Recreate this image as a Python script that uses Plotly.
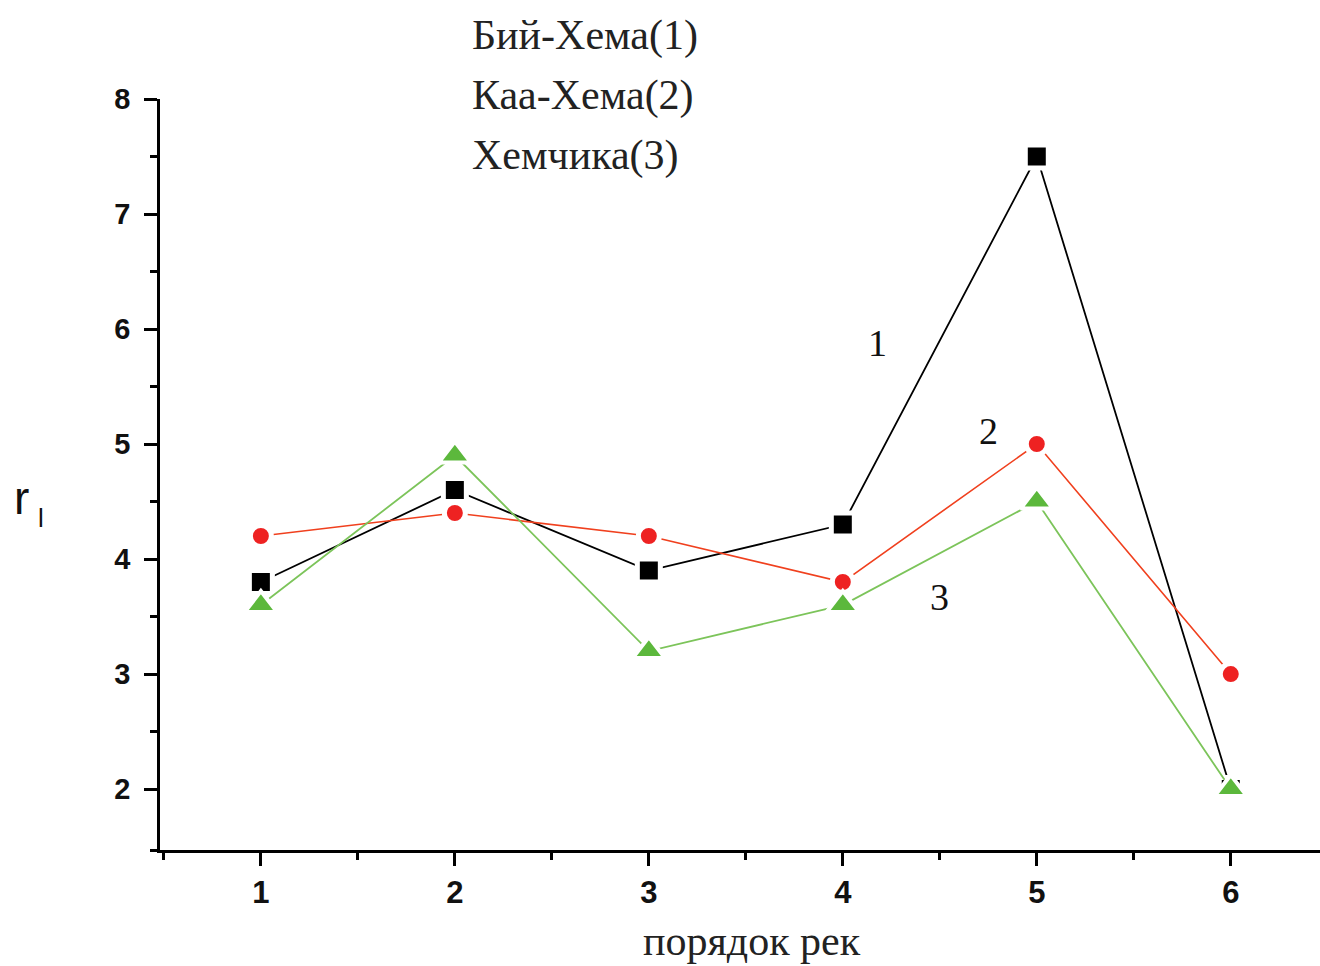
import plotly.graph_objects as go

orders = [1, 2, 3, 4, 5, 6]
bii_khem = [3.8, 4.6, 3.9, 4.3, 7.5, 2.0]
kaa_khem = [4.2, 4.4, 4.2, 3.8, 5.0, 3.0]
khemchik = [3.6, 4.9, 3.2, 3.6, 4.5, 2.0]
series_names = ["Бий-Хема(1)", "Каа-Хема(2)", "Хемчика(3)"]
curve_labels = ["1", "2", "3"]
label_x = [4.18, 4.75, 4.5]
label_y = [5.88, 5.11, 3.67]

fig = go.Figure()
fig.add_trace(go.Scatter(x=orders, y=bii_khem, mode="lines+markers", name=series_names[0],
                         line=dict(color="black", width=1.8),
                         marker=dict(symbol="square", size=23, color="black",
                                     line=dict(color="white", width=5))))
fig.add_trace(go.Scatter(x=orders, y=kaa_khem, mode="lines+markers", name=series_names[1],
                         line=dict(color="#f0401e", width=1.6),
                         marker=dict(symbol="circle", size=21, color="#ee2222",
                                     line=dict(color="white", width=5))))
fig.add_trace(go.Scatter(x=orders, y=khemchik, mode="lines+markers", name=series_names[2],
                         line=dict(color="#7cc45a", width=1.8),
                         marker=dict(symbol="triangle-up", size=28, color="#5cb83c",
                                     line=dict(color="white", width=4))))

serif = "Liberation Serif"
W, H = 1320, 966
ml, mr, mt, mb = 160, 0, 99, 116
pw, ph = W - ml - mr, H - mt - mb

def px2paper(x, y):
    return (x - ml) / pw, 1 - (y - mt) / ph

anns = []
for i, t in enumerate(series_names):
    px, py = px2paper(470, 35 + 60 * i)
    anns.append(dict(text=t, x=px, y=py, xref="paper", yref="paper",
                     showarrow=False, xanchor="left", yanchor="middle",
                     font=dict(family=serif, size=42, color="#222")))

for lab, xv, yv in zip(curve_labels, label_x, label_y):
    anns.append(dict(text=lab, x=xv, y=yv, xref="x", yref="y", showarrow=False,
                     xanchor="center", yanchor="middle",
                     font=dict(family=serif, size=38, color="#111")))

xt, yt = px2paper(752, 941)
anns.append(dict(text="порядок рек", x=xt, y=yt, xref="paper", yref="paper",
                 showarrow=False, xanchor="center", yanchor="middle",
                 font=dict(family=serif, size=42, color="#222")))
xr, yr = px2paper(21, 498)
anns.append(dict(text="r", x=xr, y=yr, xref="paper", yref="paper",
                 showarrow=False, xanchor="center", yanchor="middle",
                 font=dict(family="Liberation Sans", size=46, color="#111")))
xs, ys = px2paper(41, 518)
anns.append(dict(text="l", x=xs, y=ys, xref="paper", yref="paper",
                 showarrow=False, xanchor="center", yanchor="middle",
                 font=dict(family="Liberation Sans", size=26, color="#111")))

axis_common = dict(showline=True, linecolor="black", linewidth=2.5, showgrid=False,
                   zeroline=False, ticks="outside", tickwidth=2.5, tickcolor="black",
                   ticklen=13)

fig.update_layout(
    width=W, height=H, margin=dict(l=ml, r=mr, t=mt, b=mb),
    plot_bgcolor="white", paper_bgcolor="white", showlegend=False,
    annotations=anns,
    xaxis=dict(range=[0.48, 6.46], tickvals=orders, ticklabelstandoff=0,
               tickfont=dict(family="Liberation Sans", size=31, color="#111", weight="bold"),
               minor=dict(ticks="outside", ticklen=7, tickwidth=2.5, tickcolor="black",
                          tickvals=[0.5, 1.5, 2.5, 3.5, 4.5, 5.5]),
               **axis_common),
    yaxis=dict(range=[1.47, 8.0], tickvals=[2, 3, 4, 5, 6, 7, 8], ticklabelstandoff=8,
               tickfont=dict(family="Liberation Sans", size=29, color="#111", weight="bold"),
               minor=dict(ticks="outside", ticklen=7, tickwidth=2.5, tickcolor="black",
                          tickvals=[1.47, 2.5, 3.5, 4.5, 5.5, 6.5, 7.5]),
               **axis_common),
)

fig.write_html("out.html")
